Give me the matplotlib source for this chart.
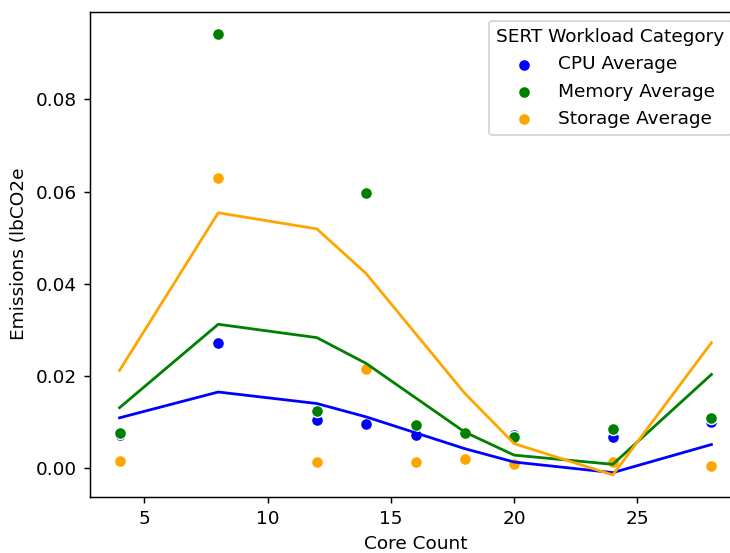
import matplotlib
matplotlib.use("Agg")
import matplotlib.pyplot as plt

# средние значения по числу ядер
cores = [4, 8, 12, 14, 16, 18, 20, 24, 28]
cpu_avg = [0.0072, 0.0272, 0.0104, 0.0096, 0.0071, 0.0074, 0.0072, 0.0067, 0.0100]
mem_avg = [0.0075, 0.0943, 0.0123, 0.0596, 0.0094, 0.0076, 0.0067, 0.0084, 0.0109]
sto_avg = [0.0015, 0.0630, 0.0013, 0.0214, 0.0013, 0.0020, 0.0008, 0.0012, 0.0004]

# линии тренда
line_cores = [4, 8, 12, 14, 18, 20, 24, 28]
cpu_line = [0.0109, 0.0165, 0.0140, 0.0111, 0.0042, 0.0013, -0.0010, 0.0051]
mem_line = [0.0131, 0.0312, 0.0283, 0.0227, 0.0078, 0.0028, 0.0008, 0.0203]
sto_line = [0.0212, 0.0554, 0.0519, 0.0422, 0.0162, 0.0053, -0.0015, 0.0272]

dpi = 133.33
fig = plt.figure(figsize=(730 / dpi, 553 / dpi), dpi=dpi)
ax = fig.add_axes([90 / 730, 1 - 497 / 553, (741 - 90) / 730, (497 - 11.5) / 553])

ax.scatter(cores, cpu_avg, s=42, color='blue', edgecolors='white', linewidths=0.75, label='CPU Average', zorder=2)
ax.scatter(cores, mem_avg, s=42, color='green', edgecolors='white', linewidths=0.75, label='Memory Average', zorder=2)
ax.scatter(cores, sto_avg, s=42, color='orange', edgecolors='white', linewidths=0.75, label='Storage Average', zorder=2)

ax.plot(line_cores, cpu_line, color='blue', lw=1.5, zorder=3)
ax.plot(line_cores, mem_line, color='green', lw=1.5, zorder=3)
ax.plot(line_cores, sto_line, color='orange', lw=1.5, zorder=3)

ax.set_xlabel('Core Count')
ax.set_ylabel('Emissions (lbCO2e')
ax.legend(title='SERT Workload Category', loc='upper right')

plt.savefig('out.png', dpi=dpi)
